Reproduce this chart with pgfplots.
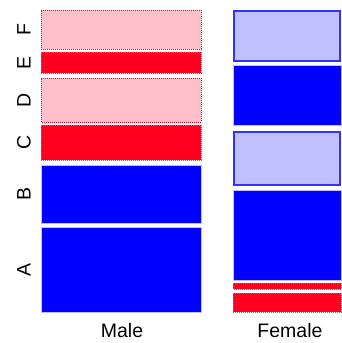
\documentclass[border=0pt]{standalone}
\usepackage{pgfplots}
\pgfplotsset{compat=1.18}
\usepackage{fontspec}
\setmainfont{Liberation Sans}
\definecolor{mred}{RGB}{255,0,32}
\definecolor{mdot}{RGB}{255,60,80}
\definecolor{mpink}{RGB}{255,192,203}
\definecolor{mblue}{RGB}{0,0,255}
\definecolor{mlblue}{RGB}{192,192,255}
\definecolor{mbord}{RGB}{50,50,255}
\begin{document}
\begin{tikzpicture}
\begin{axis}[
  scale only axis, width=341pt, height=343pt,
  xmin=0, xmax=341, ymin=0, ymax=343, y dir=reverse,
  axis lines=none, ticks=none, clip=false,
  every axis plot/.append style={line width=0.8pt},
]
\path[draw=none] (rel axis cs:0,0) rectangle (rel axis cs:1,1);
% Male column
\addplot[fill=mpink, draw=mred, line width=1pt, densely dotted] coordinates {(41,10) (201,10) (201,49) (41,49)} -- cycle; % F
\addplot[fill=mred, draw=mdot, line width=1pt, densely dotted] coordinates {(41,52) (201,52) (201,73) (41,73)} -- cycle; % E
\addplot[fill=mpink, draw=mred, line width=1pt, densely dotted] coordinates {(41,78) (201,78) (201,122) (41,122)} -- cycle; % D
\addplot[fill=mred, draw=mdot, line width=1pt, densely dotted] coordinates {(41,125) (201,125) (201,160) (41,160)} -- cycle; % C
\addplot[fill=mblue, draw=mlblue] coordinates {(41,165) (201,165) (201,223) (41,223)} -- cycle; % B
\addplot[fill=mblue, draw=mlblue] coordinates {(41,227) (201,227) (201,312) (41,312)} -- cycle; % A
% Female column
\addplot[fill=mlblue, draw=mbord, line width=1.6pt] coordinates {(233.8,10.8) (340.2,10.8) (340.2,61.2) (233.8,61.2)} -- cycle; % F
\addplot[fill=mblue, draw=mlblue] coordinates {(233,65) (341,65) (341,125) (233,125)} -- cycle; % E
\addplot[fill=mlblue, draw=mbord, line width=1.6pt] coordinates {(233.8,131.8) (340.2,131.8) (340.2,185.2) (233.8,185.2)} -- cycle; % D
\addplot[fill=mblue, draw=mlblue] coordinates {(233,190) (341,190) (341,280) (233,280)} -- cycle; % C
\addplot[fill=mred, draw=mdot, line width=1pt, densely dotted] coordinates {(233,283) (341,283) (341,289) (233,289)} -- cycle; % B
\addplot[fill=mred, draw=mdot, line width=1pt, densely dotted] coordinates {(233,293) (341,293) (341,312) (233,312)} -- cycle; % A
% labels
\begin{scope}[font=\fontsize{19.5}{23}\selectfont]
\node[rotate=90] at (axis cs:24,29.5) {F};
\node[rotate=90] at (axis cs:24,63) {E};
\node[rotate=90] at (axis cs:24,100) {D};
\node[rotate=90] at (axis cs:24,142.5) {C};
\node[rotate=90] at (axis cs:24,194) {B};
\node[rotate=90] at (axis cs:24,269.5) {A};
\node at (axis cs:122,331) {Male};
\node at (axis cs:290,331) {Female};
\end{scope}
\end{axis}
\end{tikzpicture}
\end{document}
